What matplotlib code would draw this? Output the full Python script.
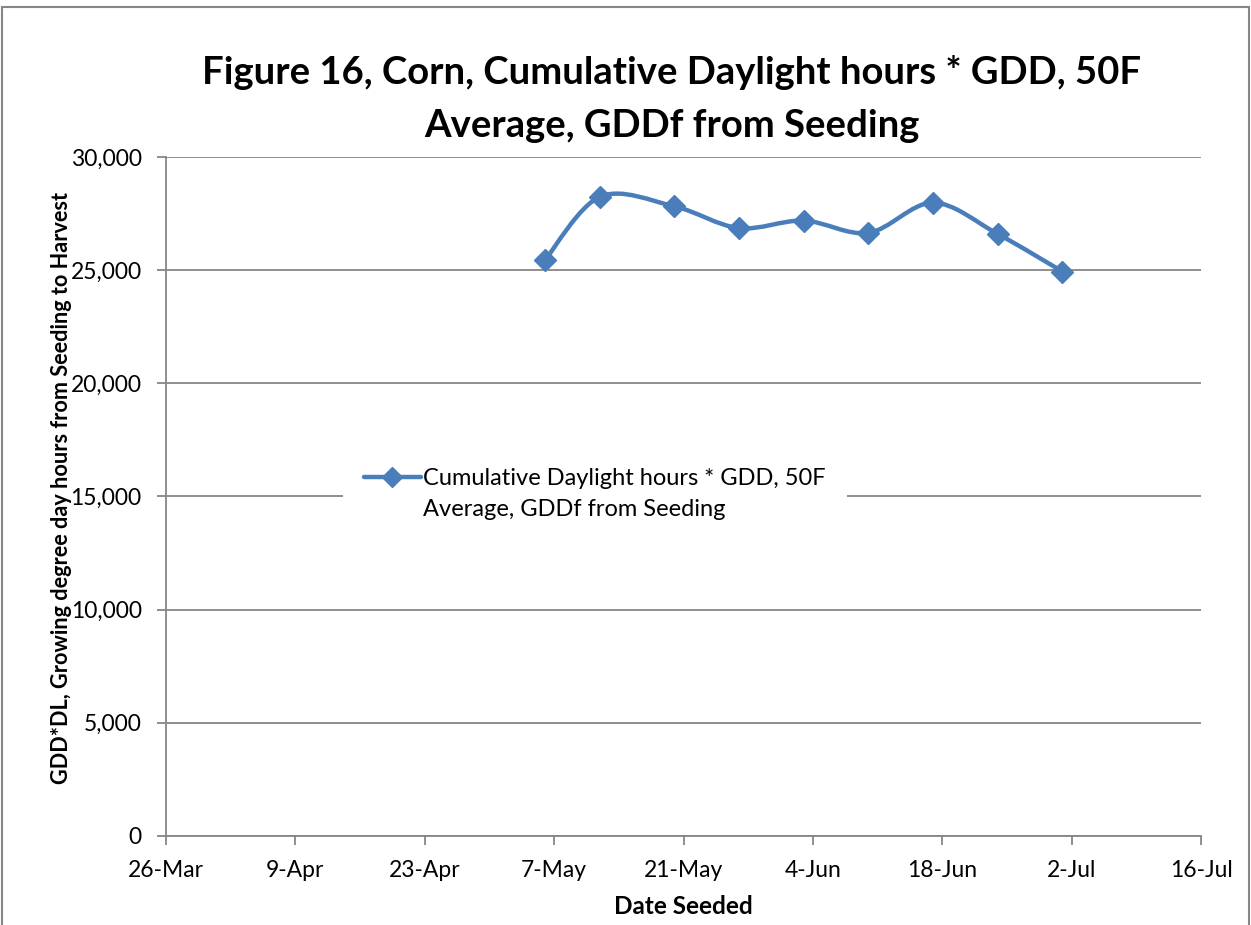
import datetime as dt
import matplotlib
matplotlib.use("Agg")
import matplotlib.pyplot as plt
import matplotlib.dates as mdates
from matplotlib.path import Path
from matplotlib.patches import PathPatch, Rectangle
from matplotlib.lines import Line2D
from matplotlib.ticker import FuncFormatter, MultipleLocator, FixedLocator

# ---- data ----
seed_dates = ["2012-05-06", "2012-05-12", "2012-05-20", "2012-05-27", "2012-06-03",
              "2012-06-10", "2012-06-17", "2012-06-24", "2012-07-01"]
gdd_dl = [25440, 28250, 27820, 26860, 27190, 26650, 27980, 26600, 24940]
series_label_lines = ["Cumulative Daylight hours * GDD, 50F", "Average, GDDf from Seeding"]
title = "Figure 16, Corn, Cumulative Daylight hours * GDD, 50F\nAverage, GDDf from Seeding"
x_label = "Date Seeded"
y_label = "GDD*DL, Growing degree day hours from Seeding to Harvest"
x_start, x_end = "2012-03-26", "2012-07-16"
x_tick_step_days = 14

plt.rcParams['font.family'] = ['Lato', 'DejaVu Sans']
LINE = "#4A7EBB"
GRID = "#868686"

fig = plt.figure(figsize=(12.51, 9.25), dpi=100)
ax = fig.add_axes([166/1251, 1-836/925, (1201-166)/1251, (836-157)/925])

def dnum(s):
    return mdates.date2num(dt.datetime.strptime(s, "%Y-%m-%d"))

xs = [dnum(d) for d in seed_dates]
ys = gdd_dl

# Excel-style smoothed line (cubic Bezier, tension 1/6)
n = len(xs)
verts = [(xs[0], ys[0])]
codes = [Path.MOVETO]
for i in range(n - 1):
    x0, y0 = (xs[i-1], ys[i-1]) if i > 0 else (xs[i], ys[i])
    x1, y1 = xs[i], ys[i]
    x2, y2 = xs[i+1], ys[i+1]
    x3, y3 = (xs[i+2], ys[i+2]) if i + 2 < n else (xs[i+1], ys[i+1])
    c1 = (x1 + (x2 - x0) / 6, y1 + (y2 - y0) / 6)
    c2 = (x2 - (x3 - x1) / 6, y2 - (y3 - y1) / 6)
    verts += [c1, c2, (x2, y2)]
    codes += [Path.CURVE4] * 3
ax.add_patch(PathPatch(Path(verts, codes), facecolor="none", edgecolor=LINE,
                       lw=3.2, capstyle="round", joinstyle="round", zorder=3))
ax.plot(xs, ys, linestyle="none", marker="D", markersize=11, color=LINE,
        markeredgecolor=LINE, zorder=4)

handle = Line2D([], [], color=LINE, lw=3.2, marker="D", markersize=10,
                solid_capstyle="round")
blank = Line2D([], [], color="none", lw=0)
leg = ax.legend([handle, blank], series_label_lines, loc="upper left",
                bbox_to_anchor=(165/1035, (836-435)/679), frameon=True,
                fancybox=False, edgecolor="white", facecolor="white", framealpha=1,
                fontsize=17, handlelength=2.4, handletextpad=0.1, borderpad=0.9,
                labelspacing=0.43)
leg.get_frame().set_linewidth(0)

ax.set_xlim(dnum(x_start), dnum(x_end))
ax.set_ylim(0, 30000)
ticks = list(range(int(dnum(x_start)), int(dnum(x_end)) + 1, x_tick_step_days))
ax.xaxis.set_major_locator(FixedLocator(ticks))
ax.xaxis.set_major_formatter(FuncFormatter(lambda v, p: mdates.num2date(v).strftime("%-d-%b")))
ax.yaxis.set_major_locator(MultipleLocator(5000))
ax.yaxis.set_major_formatter(FuncFormatter(lambda v, p: f"{int(v):,}"))

ax.grid(axis="y", color=GRID, lw=1.3)
ax.set_axisbelow(True)
for s in ["top", "right"]:
    ax.spines[s].set_visible(False)
for s in ["left", "bottom"]:
    ax.spines[s].set_color(GRID)
    ax.spines[s].set_linewidth(1.3)
ax.tick_params(axis="both", colors=GRID, labelcolor="black", labelsize=16.5,
               length=6.5, width=1.3, direction="out")
ax.tick_params(axis="x", pad=11)
ax.tick_params(axis="y", pad=11)

ax.set_xlabel(x_label, fontsize=17.5, fontweight="bold", labelpad=10)
ax.set_ylabel(y_label, fontsize=15.6, fontweight="bold", labelpad=-1)
ax.yaxis.label.set_y((836-488)/679)

fig.text(672/1251, 1-99/925, title, ha="center", va="center", fontsize=27.5,
         fontweight="bold", linespacing=1.7)

fig.patches.append(Rectangle((2/1251, -0.01), 1247/1251, 1.01 - 7/925,
                             transform=fig.transFigure, fill=False,
                             edgecolor=GRID, lw=1.5))

fig.savefig("out.png", dpi=100)
